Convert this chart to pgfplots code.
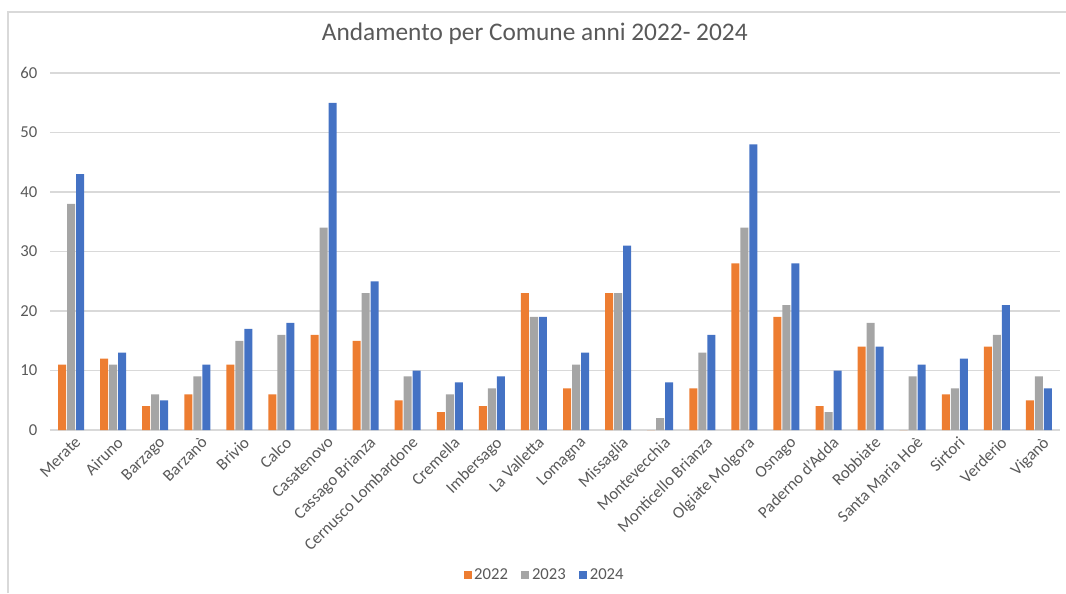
\documentclass[border=0pt]{standalone}
\usepackage{fontspec}
\setmainfont{Carlito}
\usepackage{pgfplots}
\pgfplotsset{compat=1.18}
\definecolor{xlorange}{HTML}{ED7D31}
\definecolor{xlgray}{HTML}{A5A5A5}
\definecolor{xlblue}{HTML}{4472C4}
\definecolor{txtgray}{HTML}{595959}
\definecolor{gridgray}{HTML}{D9D9D9}

\pgfplotstableread{
idx y22 y23 y24
0  11 38 43
1  12 11 13
2  4  6  5
3  6  9  11
4  11 15 17
5  6  16 18
6  16 34 55
7  15 23 25
8  5  9  10
9  3  6  8
10 4  7  9
11 23 19 19
12 7  11 13
13 23 23 31
14 0  2  8
15 7  13 16
16 28 34 48
17 19 21 28
18 4  3  10
19 14 18 14
20 0  9  11
21 6  7  12
22 14 16 21
23 5  9  7
}\datatable

\begin{document}
\begin{tikzpicture}
\path[use as bounding box] (0,0) rectangle (799.5pt,444.75pt);
\draw[gridgray, line width=0.8pt] (6pt,0) -- (6pt,435.75pt) -- (799.5pt,435.75pt);
\begin{axis}[
  at={(37.5pt,122.25pt)}, anchor=south west,
  scale only axis,
  width=757.5pt, height=267.75pt,
  ybar=0.75pt, bar width=6pt,
  xmin=-0.5, xmax=23.5,
  ymin=0, ymax=60,
  ytick={0,10,...,60},
  xtick=data,
  xticklabels={Merate,Airuno,Barzago,Barzanò,Brivio,Calco,Casatenovo,Cassago Brianza,Cernusco Lombardone,Cremella,Imbersago,La Valletta,Lomagna,Missaglia,Montevecchia,Monticello Brianza,Olgiate Molgora,Osnago,Paderno d'Adda,Robbiate,Santa Maria Hoè,Sirtori,Verderio,Viganò},
  /pgf/number format/assume math mode=true,
  tick label style={font=\fontsize{12.5}{14}\selectfont, text=txtgray},
  xticklabel style={rotate=45, anchor=north east, xshift=2pt, yshift=-1pt},
  yticklabel style={xshift=-6pt},
  major tick length=0pt,
  axis line style={draw=none},
  ymajorgrids, grid style={gridgray, line width=0.8pt},
  title={Andamento per Comune anni 2022- 2024},
  title style={at={(0.48,1.087)}, anchor=center, font=\fontsize{19}{23}\selectfont, text=txtgray},
  legend style={at={(0.49,-0.406)}, anchor=center, draw=none, legend columns=-1,
    font=\fontsize{12.5}{14}\selectfont, text=txtgray,
    /tikz/every even column/.append style={column sep=8pt}},
  legend image code/.code={\fill[#1] (0pt,-3pt) rectangle (6pt,3pt);},
]
\addplot[fill=xlorange, draw=none] table[x=idx, y=y22] {\datatable};
\addplot[fill=xlgray, draw=none] table[x=idx, y=y23] {\datatable};
\addplot[fill=xlblue, draw=none] table[x=idx, y=y24] {\datatable};
\legend{2022,2023,2024}
\end{axis}
\end{tikzpicture}
\end{document}
